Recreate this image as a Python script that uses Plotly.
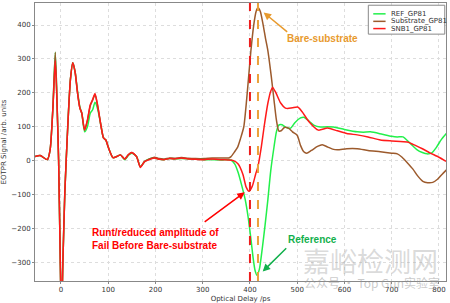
import plotly.graph_objects as go

# ---- data ----
early_x = [-55, -44, -29, -23, -17, -12, -8, -5, -2, 1, 4, 8, 11, 15, 20, 25, 30, 35, 40, 44, 50,
           56, 62, 67, 72, 78, 85, 90, 95, 100, 110, 118, 126, 135, 143, 150, 160, 168, 177, 187,
           198, 208, 219, 230, 240, 255, 269, 285, 303, 320, 339, 355]
red_early = [12, 15, 3, 32, 157, 295, 150, 0, -250, -480, -300, -100, 0, 120, 240, 289, 260, 200, 155, 140, 90,
             120, 165, 180, 198, 160, 100, 67, 61, 40, 9, 12, 17, 5, 18, 24, 12, -20, -3, 3,
             8, 4, 3, 6, 5, 8, 5, 4, 3, 5, 3, 2]
green_early = [12, 15, 3, 32, 160, 320, 155, 0, -250, -480, -300, -100, 0, 120, 240, 289, 262, 205, 158, 140, 85,
               100, 140, 150, 172, 150, 100, 67, 61, 40, 9, 12, 17, 3, 16, 22, 12, -18, -3, 5,
               8, 4, 3, 6, 5, 6, 5, 4, 3, 3, 2, 3]
brown_early = [12, 15, 3, 32, 160, 320, 155, 0, -250, -480, -300, -100, 0, 120, 240, 289, 260, 200, 155, 140, 90,
               118, 162, 178, 195, 158, 100, 67, 61, 40, 9, 12, 17, 5, 18, 24, 12, -18, -2, 5,
               10, 6, 5, 8, 7, 9, 7, 6, 6, 8, 8, 8]

red_late_x = [365, 375, 385, 392, 398, 405, 412, 417, 424, 430, 438, 444, 448, 455, 465, 475, 480, 490, 501,
              510, 525, 545, 564, 585, 605, 627, 650, 676, 700, 733, 750, 765, 781, 800, 815]
red_late = [0, -10, -40, -78, -90, -75, -40, -17, 40, 100, 170, 205, 216, 200, 170, 155, 154, 156, 158,
            145, 115, 90, 96, 88, 80, 76, 70, 61, 58, 55, 45, 35, 23, 10, -2]

green_late_x = [360, 368, 375, 382, 390, 396, 402, 407, 411, 415, 420, 426, 432, 438, 444, 451, 456, 461,
                468, 476, 486, 495, 507, 514, 522, 535, 549, 563, 577, 600, 627, 640, 655, 680, 700, 712,
                724, 740, 754, 765, 775, 785, 795, 805, 817]
green_late = [2, -10, -35, -70, -115, -165, -230, -290, -325, -338, -320, -260, -190, -114, -30, 41, 85, 105,
              106, 98, 96, 112, 126, 128, 120, 105, 99, 100, 99, 92, 85, 84, 85, 78, 72, 70,
              70, 50, 32, 24, 20, 23, 40, 62, 82]

brown_late_x = [360, 367, 374, 380, 387, 393, 398, 402, 408, 413, 417, 422, 428, 433, 438, 445, 451, 456,
                461, 466, 473, 482, 490, 500, 507, 514, 520, 530, 543, 553, 565, 575, 585, 605, 627, 650,
                676, 700, 712, 722, 733, 745, 755, 766, 776, 787, 797, 807, 817]
brown_late = [12, 25, 40, 65, 100, 180, 260, 324, 400, 440, 452, 440, 400, 360, 324, 250, 178, 120,
              88, 88, 98, 95, 85, 75, 45, 26, 22, 30, 42, 47, 40, 34, 32, 35, 35, 30,
              26, 22, 20, 10, -6, -25, -45, -61, -65, -64, -55, -40, -26]

ref_x = early_x + green_late_x
ref_y = green_early + green_late
sub_x = early_x + brown_late_x
sub_y = brown_early + brown_late
snb_x = early_x + red_late_x
snb_y = red_early + red_late

series_names = ["REF_GP81", "Substrate_GP81", "SNB1_GP81"]
series_colors = ["#22f04a", "#9c5a2c", "#ff1a1a"]
fail_line_x = 400
bare_line_x = 417

fig = go.Figure()
for xs, ys, nm, col in zip([ref_x, sub_x, snb_x], [ref_y, sub_y, snb_y], series_names, series_colors):
    fig.add_trace(go.Scatter(x=xs, y=ys, mode="lines", name=nm, showlegend=False,
                             line=dict(color=col, width=1.5, shape="spline", smoothing=0.6)))

fig.add_shape(type="line", x0=fail_line_x, x1=fail_line_x, y0=0, y1=1, xref="x", yref="paper",
              line=dict(color="#ee1c1c", width=2, dash="dash"))
fig.add_shape(type="line", x0=bare_line_x, x1=bare_line_x, y0=0, y1=1, xref="x", yref="paper",
              line=dict(color="#eba13a", width=2, dash="dash"))

# compact legend (box, samples, labels)
fig.add_shape(type="rect", xref="paper", yref="paper", x0=0.811, x1=0.997, y0=0.888, y1=0.992,
              line=dict(color="#888888", width=1), fillcolor="white", layer="above")
leg_y = [0.961, 0.934, 0.908]
for nm, col, yy in zip(series_names, series_colors, leg_y):
    fig.add_shape(type="line", xref="paper", yref="paper", x0=0.823, x1=0.853, y0=yy, y1=yy,
                  line=dict(color=col, width=1.5), layer="above")
    fig.add_annotation(x=0.862, y=yy, xref="paper", yref="paper", xanchor="left", yanchor="middle",
                       text=nm, showarrow=False,
                       font=dict(family="DejaVu Sans", size=7, color="#333333"))

ann_font = "Liberation Sans"
fig.add_annotation(x=554, y=359, xref="x", yref="y", text="<b>Bare-substrate</b>", showarrow=False,
                   font=dict(family=ann_font, size=10, color="#e89a2e"))
fig.add_annotation(x=429, y=437, ax=482, ay=376, xref="x", yref="y", axref="x", ayref="y",
                   text="", showarrow=True, arrowhead=2, arrowsize=1, arrowwidth=1.5, arrowcolor="#e89a2e")
fig.add_annotation(x=200, y=-230, xref="x", yref="y",
                   text="<b>Runt/reduced amplitude of<br>Fail Before Bare-substrate</b>", showarrow=False,
                   align="left", font=dict(family=ann_font, size=10, color="#ff0000"))
fig.add_annotation(x=389, y=-93, ax=301, ay=-184, xref="x", yref="y", axref="x", ayref="y",
                   text="", showarrow=True, arrowhead=2, arrowsize=1, arrowwidth=1.5, arrowcolor="#ff0000")
fig.add_annotation(x=533, y=-233, xref="x", yref="y", text="<b>Reference</b>", showarrow=False,
                   font=dict(family=ann_font, size=10, color="#12b04c"))
fig.add_annotation(x=427, y=-327, ax=480, ay=-254, xref="x", yref="y", axref="x", ayref="y",
                   text="", showarrow=True, arrowhead=2, arrowsize=1, arrowwidth=1.5, arrowcolor="#12b04c")

# watermark
fig.add_annotation(x=0.985, y=0.075, xref="paper", yref="paper", xanchor="right", yanchor="middle",
                   text="嘉峪检测网", showarrow=False,
                   font=dict(family="Noto Sans CJK SC", size=27, color="rgba(160,160,160,0.4)"))
fig.add_annotation(x=0.99, y=-0.005, xref="paper", yref="paper", xanchor="right", yanchor="middle",
                   text="公众号 · Top Gun实验室", showarrow=False,
                   font=dict(family="Noto Sans CJK SC", size=12, color="rgba(150,150,150,0.5)"))

axis_common = dict(showline=True, linecolor="#888888", linewidth=1, mirror=True,
                   showgrid=True, gridcolor="#dddddd", griddash="dot", gridwidth=1,
                   zeroline=False, ticks="outside", ticklen=2, tickcolor="#888888",
                   tickfont=dict(family="DejaVu Sans", size=7, color="#333333"))

fig.update_layout(
    width=450, height=303,
    margin=dict(l=33, r=4, t=2, b=20),
    paper_bgcolor="white", plot_bgcolor="white",
    showlegend=False,
    xaxis=dict(range=[-55, 815], tickvals=[0, 100, 200, 300, 400, 500, 600, 700, 800],
               title=dict(text="Optical Delay /ps", standoff=2,
                          font=dict(family="DejaVu Sans", size=7, color="#333333")),
               **axis_common),
    yaxis=dict(range=[-355, 465], tickvals=[-300, -200, -100, 0, 100, 200, 300, 400],
               title=dict(text="EOTPR Signal /arb. units", standoff=4,
                          font=dict(family="DejaVu Sans", size=7, color="#333333")),
               **axis_common),
)

fig.write_html("out.html")
